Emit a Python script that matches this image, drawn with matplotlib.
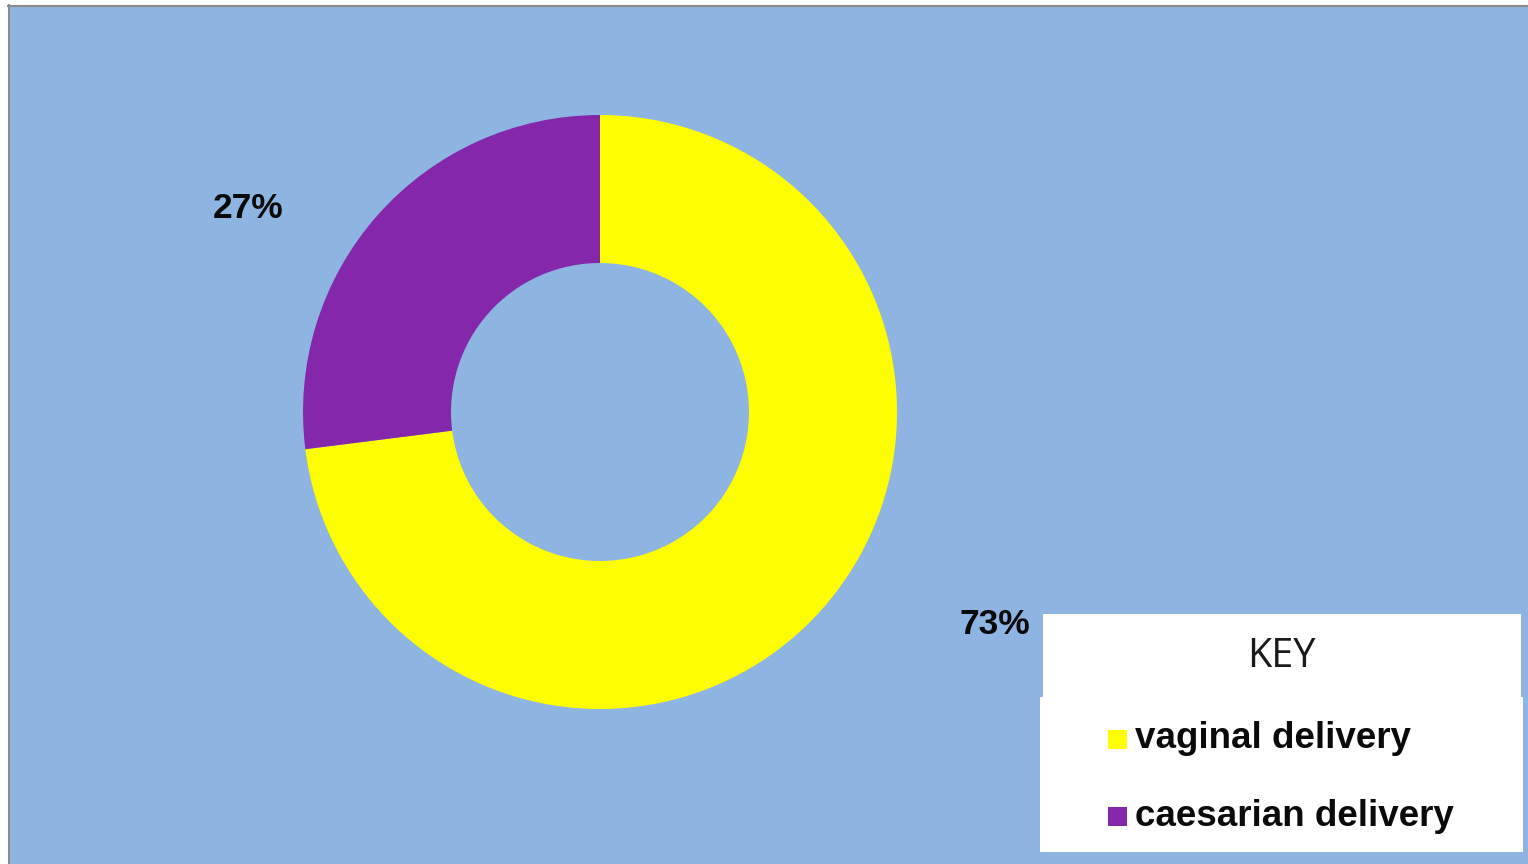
import matplotlib.pyplot as plt
from matplotlib.patches import Rectangle

# delivery mode shares (percent)
labels = ["vaginal delivery", "caesarian delivery"]
shares = [73, 27]
colors = ["#FFFF00", "#8427AA"]

W, H = 1528, 864
bg = "#8EB4E2"

fig = plt.figure(figsize=(W / 100, H / 100), dpi=100, facecolor="white")
ax = fig.add_axes([0, 0, 1, 1])
ax.set_xlim(0, W)
ax.set_ylim(0, H)
ax.set_aspect("equal")
ax.axis("off")

# slide area with thin grey edge on top and left
ax.add_patch(Rectangle((8, 0), W - 8, H - 5, facecolor=bg, edgecolor="none"))
ax.plot([8.5, 8.5], [0, H - 5], color="#8C8C8C", lw=1.5)
ax.plot([8, W], [H - 5.5, H - 5.5], color="#8C8C8C", lw=1.5)

# donut
ax.pie(shares, colors=colors, startangle=90, counterclock=False,
       center=(600, H - 412), radius=297, frame=True,
       wedgeprops=dict(width=148, edgecolor="none", linewidth=0))
ax.set_xlim(0, W)
ax.set_ylim(0, H)
ax.axis("off")

# percentage labels
label_pos = [(995, H - 624), (248, H - 208)]
for v, (x, y) in zip(shares, label_pos):
    ax.text(x, y, f"{v}%", ha="center", va="center", fontsize=25.5,
            fontweight="bold", family="Liberation Sans", color="#0A0A0A")

# key box
ax.add_patch(Rectangle((1043, H - 698), 478, 84, facecolor="white", edgecolor="none"))
ax.add_patch(Rectangle((1040, H - 852), 483, 155, facecolor="white", edgecolor="none"))
ax.text(1281, H - 657, "KEY", ha="center", va="center", fontsize=28.5,
        family="Open Sans", color="#1A1A1A")

key_y = [H - 739, H - 816]
for lab, c, y in zip(labels, colors, key_y):
    ax.add_patch(Rectangle((1108, y - 9.5), 19, 19, facecolor=c, edgecolor="none"))
    ax.text(1135, y, lab, ha="left", va="center", fontsize=26.5,
            fontweight="bold", family="Liberation Sans", color="#0A0A0A")

fig.savefig("out.png", dpi=100, facecolor="white")
